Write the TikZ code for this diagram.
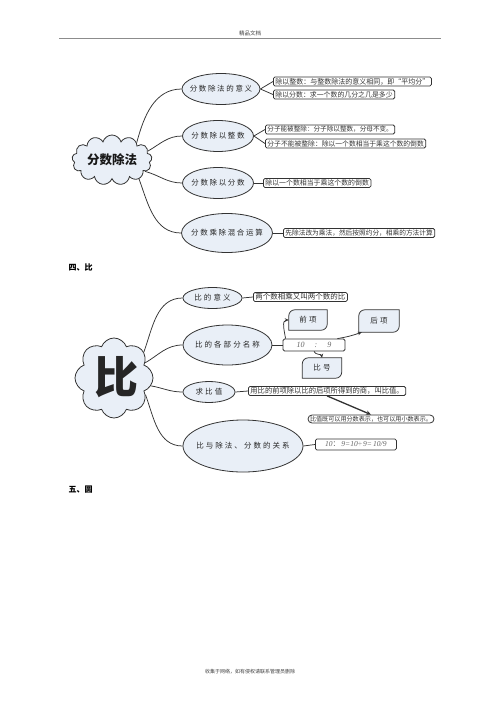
\documentclass[tikz,border=0pt]{standalone}
\usepackage{fontspec}
\setmainfont{Noto Sans CJK SC}
\newfontfamily\cjk{Noto Sans CJK SC}
\newfontfamily\cjka[LetterSpace=22]{Noto Sans CJK SC}
\newfontfamily\cjkb[LetterSpace=27]{Noto Sans CJK SC}
\newfontfamily\latit{Liberation Serif}
\usetikzlibrary{shapes.geometric,shapes.symbols,arrows.meta}
\definecolor{ellfill}{HTML}{E9EFF7}
\definecolor{edge}{HTML}{333333}
\newcommand{\zb}[1]{\makebox[0pt]{#1}}
\tikzset{
  elp/.style={ellipse, draw=edge, line width=0.8pt, fill=ellfill, inner sep=0pt, text=black!85},
  ela/.style={elp, font=\cjka\fontsize{7.5}{8}\selectfont},
  elb/.style={elp, font=\cjkb\fontsize{7.5}{8}\selectfont},
  bx/.style={rectangle, rounded corners=1.5pt, draw=edge, line width=0.8pt, fill=white, inner xsep=2pt, inner ysep=0.6pt, minimum height=9pt, text=black!80},
  ln/.style={line width=0.75pt, draw=edge},
  cl/.style={cloud, draw=edge, line width=0.8pt, fill=ellfill, inner sep=0pt},
  tag/.style={rectangle, inner sep=0pt, font=\cjkb\fontsize{7.5}{8}\selectfont, text=black!85},
  arr/.style={ln, -{Stealth[length=4pt,width=3.5pt]}},
}
\newcommand{\tagshape}[1]{%
  \draw[ln, fill=ellfill] (#1.south west) -- ([yshift=-6pt]#1.north west)
    arc[start angle=180,end angle=90,radius=6pt] -- (#1.north east)
    -- ([yshift=6pt]#1.south east) arc[start angle=0,end angle=-90,radius=6pt] -- cycle;}
\begin{document}
\begin{tikzpicture}[x=1pt,y=-1pt]
\useasboundingbox[fill=white] (0,0) rectangle (500,707);

% header
\node[font=\fontsize{5.5}{6}\selectfont, text=black!75] (hd) at (250,33.5) {精品文档};
\coordinate (hl) at (59,38.5);
\coordinate (hr) at (441,38.5);
\draw[black!45, line width=1.6pt] (hl) -- (hr);

% ---------------- section 1 ----------------
\node[cl, cloud puffs=13, aspect=1.7, minimum width=80pt, minimum height=50pt] (c1) at (112,160) {};
\node[font=\bfseries\fontsize{12.5}{13}\selectfont, text=black!90] (c1t) at (112,160) {分数除法};

\node[ela, minimum width=78pt, minimum height=31pt] (e1) at (221,89) {\zb{分数除法的意义}};
\node[ela, minimum width=71pt, minimum height=31pt] (e2) at (218,136) {\zb{分数除以整数}};
\node[ela, minimum width=71pt, minimum height=31pt] (e3) at (218,183) {\zb{分数除以分数}};
\node[ela, minimum width=91pt, minimum height=39pt] (e4) at (227,233) {\zb{分数乘除混合运算}};

\draw[ln] (c1.35) to[out=75,in=180] (e1.west);
\draw[ln] (c1.14) to[out=30,in=180] (e2.west);
\draw[ln] (c1.-19) to[out=-15,in=180] (e3.west);
\draw[ln] (c1.-35) to[out=-70,in=180] (e4.west);

\node[bx, anchor=west, font=\fontsize{7}{7.5}\selectfont] (b1a) at (273,81.5) {除以整数：与整数除法的意义相同，即“平均分”};
\node[bx, anchor=west, font=\fontsize{6.9}{7.5}\selectfont] (b1b) at (273,94.5) {除以分数：求一个数的几分之几是多少};
\node[bx, anchor=west, font=\fontsize{6.6}{7.5}\selectfont] (b2a) at (265,129.5) {分子能被整除：分子除以整数，分母不变。};
\node[bx, anchor=west, font=\fontsize{6.8}{7.5}\selectfont] (b2b) at (265,143.5) {分子不能被整除：除以一个数相当于乘这个数的倒数};
\node[bx, anchor=west, font=\fontsize{6.9}{7.5}\selectfont] (b3) at (263,183) {除以一个数相当于乘这个数的倒数};
\node[bx, anchor=west, font=\fontsize{6.7}{7.5}\selectfont] (b4) at (283,233) {先除法改为乘法，然后按照约分，相乘的方法计算};

\draw[ln] (e1.east) -- (b1a.west);
\draw[ln] (e1.east) -- (b1b.west);
\draw[ln] (e2.east) -- (b2a.west);
\draw[ln] (e2.east) -- (b2b.west);
\draw[ln] (e3.east) -- (b3.west);
\draw[ln] (e4.east) -- (b4.west);

% ---------------- section 2 ----------------
\node[anchor=west, font=\bfseries\fontsize{8}{9}\selectfont] (h4) at (65,268) {四、比};

\node[cl, cloud puffs=8, cloud puff arc=140, aspect=1, minimum width=78pt, minimum height=80pt] (c2) at (114,378) {};
\node[font=\bfseries\fontsize{44}{44}\selectfont, text=black!85] (c2t) at (116,377) {比};

\node[elb, minimum width=59pt, minimum height=21pt] (f1) at (212.5,298) {\zb{比的意义}};
\node[elb, minimum width=89pt, minimum height=40pt] (f2) at (227.5,345) {\zb{比的各部分名称}};
\node[elb, minimum width=52pt, minimum height=21pt] (f3) at (209,392) {\zb{求比值}};
\node[elb, minimum width=120pt, minimum height=52pt] (f4) at (243,446) {\zb{比与除法、分数的关系}};

\draw[ln] (c2.41) to[out=70,in=180] (f1.west);
\draw[ln] (c2.26) to[out=30,in=180] (f2.west);
\draw[ln] (c2.-12) to[out=-10,in=180] (f3.west);
\draw[ln] (c2.-28) to[out=-70,in=180] (f4.west);

\node[bx, anchor=west, font=\fontsize{7.5}{8}\selectfont] (g1) at (253,297) {两个数相乘又叫两个数的比};
\node[bx, minimum width=62pt, minimum height=12pt, font=\latit\itshape\fontsize{8}{9}\selectfont, text=black!60] (r) at (314,345) {10\hspace{10pt}:\hspace{10pt}9};

\node[tag, minimum width=38pt, minimum height=20pt] (q) at (308,320) {};
\tagshape{q}
\node[tag] (qt) at (q) {前项};
\node[tag, minimum width=40pt, minimum height=22pt] (h) at (379,321) {};
\tagshape{h}
\node[tag] (ht) at (h) {后项};
\node[tag, minimum width=39pt, minimum height=20pt] (s) at (322,368) {};
\tagshape{s}
\node[tag] (st) at (s) {比号};

\draw[arr] ([xshift=3pt]r.north west) to[out=100,in=180] (q.west);
\draw[arr] ([xshift=-8pt]r.north east) to[bend right=5] ([xshift=3pt]h.south west);
\draw[arr] (r.south) to[out=-70,in=100] (s.north);

\node[bx, anchor=west, font=\fontsize{7.3}{8}\selectfont] (g3) at (248,391) {用比的前项除以比的后项所得到的商，叫比值。};
\node[bx, rounded corners=4pt, inner ysep=0.3pt, minimum height=8pt, font=\fontsize{6.1}{6.5}\selectfont] (g3b) at (371,419) {比值既可以用分数表示，也可以用小数表示。};
\draw[ln, line width=1.3pt, -{Stealth[length=5pt,width=4.5pt]}] (g3.south) -- (g3b.north);

\node[bx, anchor=west, minimum width=81pt, minimum height=11pt, font=\latit\itshape\fontsize{7.5}{8}\selectfont, text=black!60] (g4) at (315,444.5) {10{\cjk\upshape ：}\,9=10÷\,9=\,10/9};

\draw[ln] (f1.east) -- (g1.west);
\draw[ln] (f2.east) -- (r.west);
\draw[ln] (f3.east) -- (g3.west);
\draw[ln] (f4.east) -- (g4.west);

% ---------------- section 3 ----------------
\node[anchor=west, font=\bfseries\fontsize{8}{9}\selectfont] (h5) at (65,490) {五、圆};

% footer
\node[font=\fontsize{5}{6}\selectfont, text=black!75] (ft) at (250,672) {收集于网络，如有侵权请联系管理员删除};
\end{tikzpicture}
\end{document}
